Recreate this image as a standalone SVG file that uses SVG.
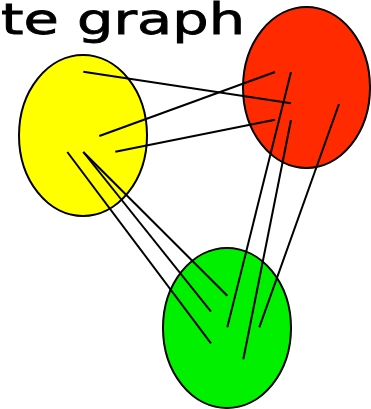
<svg xmlns="http://www.w3.org/2000/svg" width="371" height="409" viewBox="0 0 371 409">
<style>
.node{stroke:#000;stroke-width:2}
.edge{stroke:#000;stroke-width:2;fill:none;stroke-linecap:butt}
.title{font-family:"Comic Sans MS","DejaVu Sans","Liberation Sans",sans-serif;font-size:42px;fill:#000;stroke:#000;stroke-width:0.8}
</style>
<rect width="371" height="409" fill="#fff"/>
<text class="title" x="1" y="34" textLength="244" lengthAdjust="spacingAndGlyphs">te graph</text>
<g id="yellow"><ellipse class="node" cx="83" cy="135.5" rx="64" ry="80.5" fill="#ffff00"/></g>
<g id="red"><ellipse class="node" cx="306.5" cy="87.5" rx="63.5" ry="80.5" fill="#ff2a00"/></g>
<g id="green"><ellipse class="node" cx="227" cy="328" rx="64" ry="80" fill="#00f000"/></g>
<g id="edges">
<line class="edge" x1="83.3" y1="71.7" x2="291" y2="103.3"/>
<line class="edge" x1="99.3" y1="136" x2="275" y2="72"/>
<line class="edge" x1="115.3" y1="151.7" x2="275" y2="119.7"/>
<line class="edge" x1="291" y1="72" x2="227.3" y2="327.3"/>
<line class="edge" x1="291" y1="120" x2="243.3" y2="359.3"/>
<line class="edge" x1="339" y1="104" x2="259.3" y2="327.3"/>
<line class="edge" x1="67.3" y1="152" x2="211" y2="343.3"/>
<line class="edge" x1="83.3" y1="152" x2="211" y2="311.7"/>
<line class="edge" x1="83.3" y1="152" x2="227.3" y2="295.7"/>
</g>
</svg>
